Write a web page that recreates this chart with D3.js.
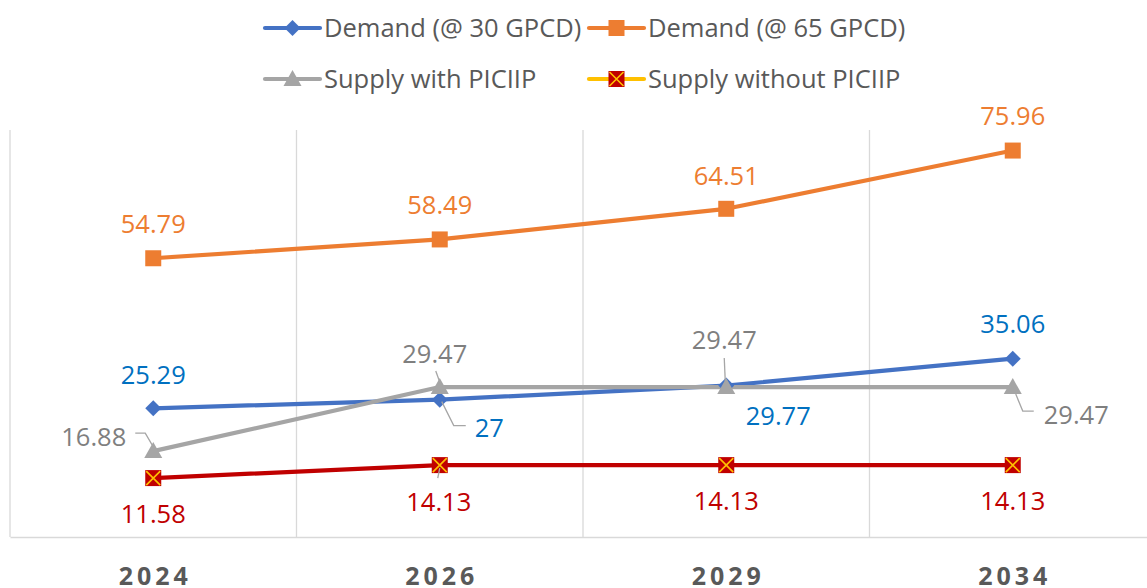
<!DOCTYPE html>
<html lang="en">
<head>
<meta charset="UTF-8">
<script src="https://d3js.org/d3.v7.min.js"></script>
<title>Demand and Supply</title>
<style>
  body { margin: 0; background: #fff; }
  svg { font-family: "Open Sans", "Noto Sans", sans-serif; }
</style>
</head>
<body>
<svg id="plot"></svg>
<script>
// data
var years = ["2024", "2026", "2029", "2034"];
var demand30 = [25.29, 27, 29.77, 35.06];
var demand65 = [54.79, 58.49, 64.51, 75.96];
var supplyWith = [16.88, 29.47, 29.47, 29.47];
var supplyWithout = [11.58, 14.13, 14.13, 14.13];
var seriesNames = ["Demand (@ 30 GPCD)", "Demand (@ 65 GPCD)", "Supply with PICIIP", "Supply without PICIIP"];

const width = 1147, height = 588;
const margin = {top: 130, bottom: 51, left: 10, right: -9};

const svg = d3.select("#plot").attr("width", width).attr("height", height);

const x = d3.scaleBand().domain(years).range([margin.left, width - margin.right]);
const y = d3.scaleLinear().domain([0, 80]).range([height - margin.bottom, margin.top]);
const cx = d => x(d) + x.bandwidth() / 2;

// series styles + label placement (dx, dy from point, leader polyline as offsets)
const series = [
  {name: seriesNames[0], values: demand30, color: "#4472c4", text: "#0070c0", marker: "diamond",
   labels: [
     {dx: 0, dy: -34, anchor: "middle"},
     {dx: 35, dy: 28, anchor: "start", leader: [[2, 2], [14, 26], [26, 26]]},
     {dx: 52, dy: 30, anchor: "middle"},
     {dx: 0, dy: -35, anchor: "middle"}
   ]},
  {name: seriesNames[1], values: demand65, color: "#ed7d31", text: "#ed7d31", marker: "square",
   labels: [
     {dx: 0, dy: -35, anchor: "middle"},
     {dx: 0, dy: -35, anchor: "middle"},
     {dx: 0, dy: -34, anchor: "middle"},
     {dx: 0, dy: -35, anchor: "middle"}
   ]},
  {name: seriesNames[2], values: supplyWith, color: "#a5a5a5", text: "#7f7f7f", marker: "triangle",
   labels: [
     {dx: -27, dy: -15, anchor: "end", leader: [[-1, -6], [-8, -18], [-18, -18]]},
     {dx: -5, dy: -34, anchor: "middle", leader: [[0, -5], [-4, -16]]},
     {dx: -2, dy: -48, anchor: "middle", leader: [[-1, -6], [-2, -29]]},
     {dx: 31, dy: 27, anchor: "start", leader: [[3, 7], [10, 24], [21, 24]]}
   ]},
  {name: seriesNames[3], values: supplyWithout, color: "#c00000", text: "#c00000", marker: "xbox",
   labels: [
     {dx: 0, dy: 35, anchor: "middle"},
     {dx: -1, dy: 36, anchor: "middle", leader: [[0, 3], [-2, 13]]},
     {dx: 0, dy: 35, anchor: "middle"},
     {dx: 0, dy: 35, anchor: "middle"}
   ]}
];
const legendLine = {"xbox": "#ffc000"};
const labelShift = 3; // Open Sans sits a bit high with middle baseline

// gridlines (vertical, category boundaries)
const bounds = years.map(d => x(d));
svg.append("g").selectAll("line").data(bounds).join("line")
  .attr("x1", d => d).attr("x2", d => d)
  .attr("y1", margin.top).attr("y2", y(0))
  .attr("stroke", "#d9d9d9").attr("stroke-width", 1.3);

// x axis
const xAxis = d3.axisBottom(x).tickSize(0);
svg.append("g").attr("transform", `translate(0,${y(0)})`).call(xAxis)
  .call(g => g.select(".domain").attr("stroke", "#d9d9d9").attr("stroke-width", 1.5))
  .call(g => g.selectAll("text")
    .attr("y", 48).attr("dy", null).attr("dx", 2)
    .attr("font-size", 25).attr("font-weight", "bold").attr("fill", "#595959")
    .attr("letter-spacing", 4)
    .attr("font-family", "'Open Sans', sans-serif"));

function drawMarker(g, type, color) {
  if (type === "diamond") {
    g.append("path").attr("d", "M0,-8L8,0L0,8L-8,0Z").attr("fill", color);
  } else if (type === "square") {
    g.append("rect").attr("x", -8).attr("y", -8).attr("width", 16).attr("height", 16).attr("fill", color);
  } else if (type === "triangle") {
    g.append("path").attr("d", "M0,-9L9,7L-9,7Z").attr("fill", color);
  } else if (type === "xbox") {
    g.append("rect").attr("x", -8).attr("y", -8).attr("width", 16).attr("height", 16).attr("fill", "#c00000");
    g.append("path").attr("d", "M-7,-7L7,7M7,-7L-7,7").attr("stroke", "#ffc000").attr("stroke-width", 1.6);
  }
}

const line = d3.line().x((d, i) => cx(years[i])).y(d => y(d));

// draw order: demand30 sits under the supply line
const order = [1, 0, 2, 3];
order.forEach(si => {
  const s = series[si];
  svg.append("path").attr("d", line(s.values))
    .attr("fill", "none").attr("stroke", s.color).attr("stroke-width", 4.2)
    .attr("stroke-linejoin", "round");
});
order.forEach(si => {
  const s = series[si];
  s.values.forEach((v, i) => {
    const g = svg.append("g").attr("transform", `translate(${cx(years[i])},${y(v)})`);
    drawMarker(g, s.marker, s.color);
  });
});

// labels and leader lines
series.forEach(s => {
  s.values.forEach((v, i) => {
    const px = cx(years[i]), py = y(v), l = s.labels[i];
    if (l.leader) {
      svg.append("path")
        .attr("d", d3.line()(l.leader.map(p => [px + p[0], py + p[1]])))
        .attr("fill", "none").attr("stroke", "#a6a6a6").attr("stroke-width", 1.3);
    }
    svg.append("text")
      .attr("x", px + l.dx).attr("y", py + l.dy + labelShift)
      .attr("text-anchor", l.anchor).attr("dominant-baseline", "middle")
      .attr("font-size", 25.5).attr("fill", s.text)
      .text(v);
  });
});

// legend
const legendPos = [[265, 28], [589, 28], [265, 79], [589, 79]];
series.forEach((s, i) => {
  const g = svg.append("g").attr("transform", `translate(${legendPos[i][0]},${legendPos[i][1]})`);
  g.append("line").attr("x1", 0).attr("x2", 55).attr("y1", 0).attr("y2", 0)
    .attr("stroke", legendLine[s.marker] || s.color).attr("stroke-width", 4.2).attr("stroke-linecap", "round");
  const m = g.append("g").attr("transform", "translate(27.5,0)");
  drawMarker(m, s.marker, s.color);
  g.append("text").attr("x", 59).attr("y", labelShift - 1).attr("dominant-baseline", "middle")
    .attr("font-size", 25.5).attr("fill", "#595959").text(s.name);
});
</script>
</body>
</html>
